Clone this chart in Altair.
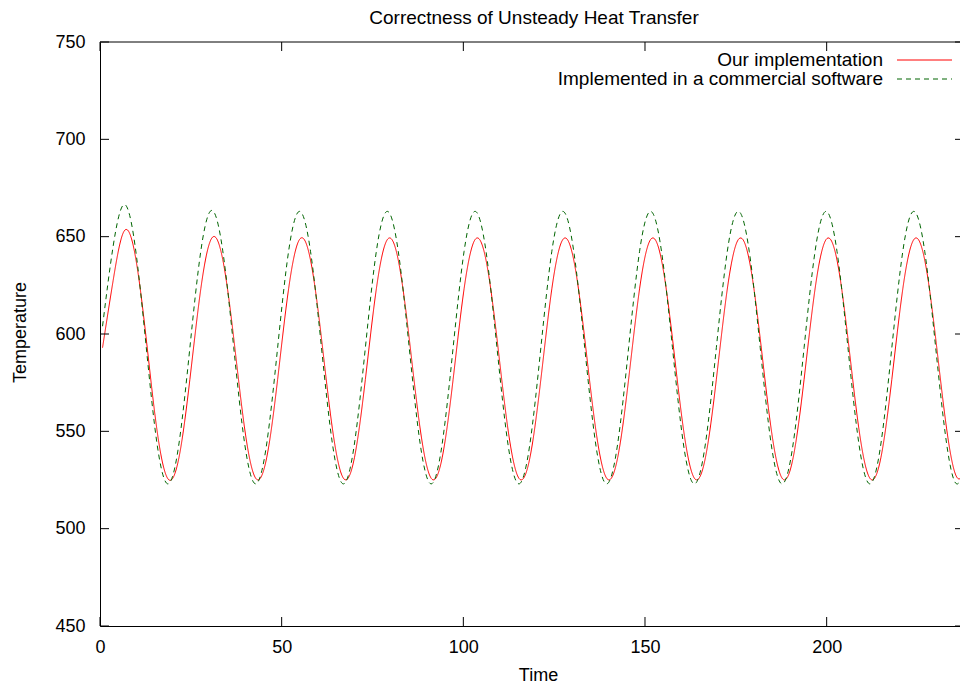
import altair as alt
import pandas as pd

# ---------------- data ----------------
series_names = ["Our implementation", "Implemented in a commercial software"]
series_colors = ["#ff0000", "#006400"]

time = [
    0.70, 3.61, 6.62, 9.64, 12.66, 15.68,
    18.70, 21.72, 24.74, 27.76, 30.78, 33.79, 36.81, 39.83,
    42.85, 45.87, 48.89, 51.91, 54.93, 57.94, 60.96, 63.98,
    67.00, 70.02, 73.04, 76.06, 79.08, 82.09, 85.11, 88.13,
    91.15, 94.17, 97.19, 100.21, 103.23, 106.24, 109.26, 112.28,
    115.30, 118.32, 121.34, 124.36, 127.38, 130.39, 133.41, 136.43,
    139.45, 142.47, 145.49, 148.51, 151.53, 154.54, 157.56, 160.58,
    163.60, 166.62, 169.64, 172.66, 175.68, 178.69, 181.71, 184.73,
    187.75, 190.77, 193.79, 196.81, 199.83, 202.84, 205.86, 208.88,
    211.90, 214.92, 217.94, 220.96, 223.98, 226.99, 230.01, 233.03,
    236.05, 239.07,
]

ours = [
    593.0, 627.4, 652.8, 640.9, 598.6, 550.7,
    525.6, 536.4, 576.7, 623.4, 649.3, 638.2, 597.8, 551.2,
    525.9, 536.4, 576.7, 623.2, 648.6, 638.0, 597.7, 551.2,
    525.9, 536.4, 576.7, 623.2, 648.5, 638.0, 597.7, 551.2,
    525.9, 536.4, 576.7, 623.2, 648.5, 638.0, 597.7, 551.2,
    525.9, 536.4, 576.7, 623.2, 648.5, 638.0, 597.7, 551.2,
    525.9, 536.4, 576.7, 623.2, 648.5, 638.0, 597.7, 551.2,
    525.9, 536.4, 576.7, 623.2, 648.5, 638.0, 597.7, 551.2,
    525.9, 536.4, 576.7, 623.2, 648.5, 638.0, 597.7, 551.2,
    525.9, 536.4, 576.7, 623.2, 648.5, 638.0, 597.7, 551.2,
    525.9, 536.4,
]

commercial = [
    604.0, 645.0, 666.5, 645.5, 594.5, 543.8,
    523.0, 543.5, 593.0, 642.8, 663.5, 642.7, 593.0, 543.5,
    523.0, 543.5, 593.0, 642.5, 663.0, 642.5, 593.0, 543.5,
    523.0, 543.5, 593.0, 642.5, 663.0, 642.5, 593.0, 543.5,
    523.0, 543.5, 593.0, 642.5, 663.0, 642.5, 593.0, 543.5,
    523.0, 543.5, 593.0, 642.5, 663.0, 642.5, 593.0, 543.5,
    523.0, 543.5, 593.0, 642.5, 663.0, 642.5, 593.0, 543.5,
    523.0, 543.5, 593.0, 642.5, 663.0, 642.5, 593.0, 543.5,
    523.0, 543.5, 593.0, 642.5, 663.0, 642.5, 593.0, 543.5,
    523.0, 543.5, 593.0, 642.5, 663.0, 642.5, 593.0, 543.5,
    523.0, 543.5,
]

x_ticks = [0, 50, 100, 150, 200]
y_ticks = [450, 500, 550, 600, 650, 700, 750]
x_domain = [0, 236.7]
y_domain = [450, 750]

# ---------------- tables ----------------
rows = []
for name, vals in zip(series_names, [ours, commercial]):
    for t, v in zip(time, vals):
        rows.append({"time": t, "value": v, "series": name})
df = pd.DataFrame(rows)
xt_df = pd.DataFrame({"time": x_ticks})
yt_df = pd.DataFrame({"value": y_ticks})
leg_df = pd.DataFrame({"series": series_names})

W, H = 860, 584
FONT = "Liberation Sans"
TICK = 9

xscale = alt.Scale(domain=x_domain, nice=False, zero=False)
yscale = alt.Scale(domain=y_domain, nice=False, zero=False)

lines = alt.Chart(df).mark_line(strokeWidth=1, interpolate="natural", clip=True).encode(
    x=alt.X("time:Q", scale=xscale,
            axis=alt.Axis(title="Time", values=x_ticks, format="d", ticks=False, tickSize=0,
                          labelPadding=12, labelFlush=False, labelOverlap=False, grid=False,
                          titleX=438, titleY=54, titleBaseline="alphabetic")),
    y=alt.Y("value:Q", scale=yscale,
            axis=alt.Axis(title="Temperature", values=y_ticks, format="d", ticks=False, tickSize=0,
                          labelPadding=15, labelFlush=False, labelOverlap=False, grid=False,
                          titleX=-75, titleY=290, titleAngle=-90, titleAlign="center",
                          titleBaseline="alphabetic")),
    color=alt.Color("series:N", scale=alt.Scale(domain=series_names, range=series_colors), legend=None),
    strokeDash=alt.StrokeDash("series:N", scale=alt.Scale(domain=series_names, range=[[1, 0], [5, 4]]),
                              legend=None),
    detail="series:N",
)

# border (top) and inward ticks on all four sides
top_border = alt.Chart(leg_df.head(1)).mark_rule(color="black", strokeWidth=1).encode(
    x=alt.value(0), x2=alt.value(W), y=alt.value(0))
xt_bottom = alt.Chart(xt_df).mark_rule(color="black", strokeWidth=1).encode(
    x=alt.X("time:Q", scale=xscale), y=alt.value(H), y2=alt.value(H - TICK))
xt_top = alt.Chart(xt_df).mark_rule(color="black", strokeWidth=1).encode(
    x=alt.X("time:Q", scale=xscale), y=alt.value(0), y2=alt.value(TICK))
yt_left = alt.Chart(yt_df).mark_rule(color="black", strokeWidth=1).encode(
    y=alt.Y("value:Q", scale=yscale), x=alt.value(0), x2=alt.value(TICK))
yt_right = alt.Chart(yt_df).mark_rule(color="black", strokeWidth=1).encode(
    y=alt.Y("value:Q", scale=yscale), x=alt.value(W - 5), x2=alt.value(W))

# key (top right, labels left of samples, as in the reference)
key_layers = []
for i, (name, col, dash) in enumerate(zip(series_names, series_colors, [[1, 0], [5, 4]])):
    ry = 18 + i * 19
    sub = alt.Chart(leg_df).transform_filter(alt.datum.series == name)
    key_layers.append(sub.mark_text(align="right", baseline="middle", font=FONT, fontSize=19,
                                    color="black").encode(
        text="series:N", x=alt.value(783), y=alt.value(ry)))
    key_layers.append(sub.mark_rule(color=col, strokeWidth=1, strokeDash=dash).encode(
        x=alt.value(797), x2=alt.value(852), y=alt.value(ry)))

chart = alt.layer(lines, top_border, xt_bottom, xt_top, yt_left, yt_right, *key_layers).properties(
    width=W, height=H,
    autosize=alt.AutoSizeParams(type="none"),
    padding={"left": 92, "top": 34, "right": 0, "bottom": 62},
    background="white",
    title=alt.TitleParams(text="Correctness of Unsteady Heat Transfer", font=FONT, fontSize=19,
                          fontWeight="normal", color="black", anchor="middle", offset=5, dx=4),
).configure_view(stroke=None).configure_axis(
    domainColor="black", domainWidth=1, labelColor="black", labelFont=FONT, labelFontSize=18,
    titleColor="black", titleFont=FONT, titleFontSize=18, titleFontWeight="normal",
)

chart.save("out.html", embed_options={"renderer": "svg", "actions": False})
